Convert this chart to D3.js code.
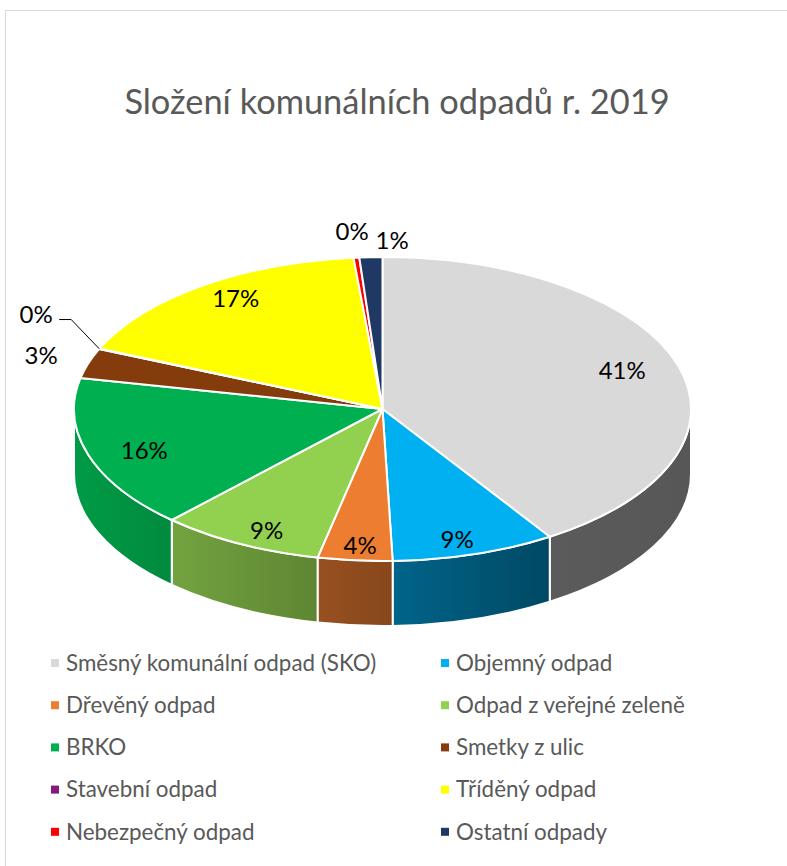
<!DOCTYPE html>
<html>
<head>
<meta charset="utf-8">
<script src="https://cdn.jsdelivr.net/npm/d3@7"></script>
<style>
  body { margin: 0; background: #fff; }
  svg text { font-family: Lato, "Open Sans", sans-serif; }
</style>
</head>
<body>
<div id="chart"></div>
<script>
(function(d3) {
  'use strict';

  // data (shares in %)
  var categories = ['Směsný komunální odpad (SKO)', 'Objemný odpad', 'Dřevěný odpad',
    'Odpad z veřejné zeleně', 'BRKO', 'Smetky z ulic', 'Stavební odpad',
    'Tříděný odpad', 'Nebezpečný odpad', 'Ostatní odpady'];
  var shares = [40.9, 8.6, 3.9, 8.6, 16.3, 3.2, 0.05, 17.0, 0.3, 1.2];
  var colors = ['#d9d9d9', '#00b0f0', '#ed7d31', '#92d050', '#00b050',
    '#843c0c', '#86197f', '#ffff00', '#ff0000', '#1f3864'];
  var title = 'Složení komunálních odpadů r. 2019';

  var width = 787;
  var height = 866;
  var cx = 382.5, cy = 409;
  var rx = 308.5, ry = 152;
  var depth = 65;

  var svg = d3.select('#chart')
    .append('svg')
    .attr('width', width)
    .attr('height', height);

  svg.append('rect')
    .attr('x', 5.5).attr('y', 10.5)
    .attr('width', width + 10).attr('height', height + 10)
    .attr('fill', '#fff')
    .attr('stroke', '#d9d9d9');

  svg.append('text')
    .attr('x', 397).attr('y', 114)
    .attr('text-anchor', 'middle')
    .attr('fill', '#595959')
    .style('font-size', '34.4px')
    .text(title);

  var data = categories.map(function(c, i) {
    return { name: c, value: shares[i], color: colors[i] };
  });

  var pie = d3.pie()
    .value(function(d) { return d.value; })
    .sort(null)
    .startAngle(0)
    .endAngle(2 * Math.PI);

  var arcs = pie(data);

  function pt(a, dy) {
    return [cx + rx * Math.sin(a), cy - ry * Math.cos(a) + (dy || 0)];
  }

  // light from the left: sides facing right get darker
  function shade(color, a) {
    var f = Math.max(0.4, 0.58 - 0.3 * Math.sin(a));
    var c = d3.rgb(color);
    return d3.rgb(c.r * f, c.g * f, c.b * f).formatHex();
  }

  var defs = svg.append('defs');
  var sides = svg.append('g');
  var tops = svg.append('g');

  arcs.forEach(function(d, i) {
    var s = Math.max(d.startAngle, Math.PI / 2);
    var e = Math.min(d.endAngle, 3 * Math.PI / 2);
    if (s >= e) return;
    var g = defs.append('linearGradient')
      .attr('id', 'side' + i)
      .attr('x1', 0).attr('x2', 1).attr('y1', 0).attr('y2', 0);
    // left edge of the wall is the end angle (clockwise runs right to left at the front)
    g.append('stop').attr('offset', 0).attr('stop-color', shade(d.data.color, e));
    g.append('stop').attr('offset', 1).attr('stop-color', shade(d.data.color, s));
    var p0 = pt(s), p1 = pt(e), q1 = pt(e, depth), q0 = pt(s, depth);
    sides.append('path')
      .attr('d', 'M' + p0 + 'A' + rx + ',' + ry + ' 0 0 1 ' + p1 +
        'L' + q1 + 'A' + rx + ',' + ry + ' 0 0 0 ' + q0 + 'Z')
      .attr('fill', 'url(#side' + i + ')')
      .attr('stroke', '#fff')
      .attr('stroke-width', 2)
      .attr('stroke-linejoin', 'round');
  });

  arcs.forEach(function(d) {
    var p0 = pt(d.startAngle), p1 = pt(d.endAngle);
    var large = d.endAngle - d.startAngle > Math.PI ? 1 : 0;
    tops.append('path')
      .attr('d', 'M' + cx + ',' + cy + 'L' + p0 + 'A' + rx + ',' + ry +
        ' 0 ' + large + ' 1 ' + p1 + 'Z')
      .attr('fill', d.data.color)
      .attr('stroke', '#fff')
      .attr('stroke-width', 2)
      .attr('stroke-linejoin', 'round');
  });

  // data labels: big slices inside, small ones outside
  var labels = arcs.map(function(d) {
    var a = (d.startAngle + d.endAngle) / 2;
    var inside = d.data.value >= 3.5;
    var kx = inside ? 0.81 : 1.16;
    var ky = inside ? 0.9 : 1.17;
    return {
      a: a, inside: inside,
      text: Math.round(d.data.value) + '%',
      x: cx + kx * rx * Math.sin(a),
      y: cy - ky * ry * Math.cos(a),
      edge: pt(a)
    };
  });

  // simple overlap fix for the outside labels
  var outside = labels.filter(function(l) { return !l.inside; });
  for (var i = 0; i < outside.length; i++) {
    for (var j = 0; j < i; j++) {
      var A = outside[j], B = outside[i];
      var dx = B.x - A.x, dy = B.y - A.y;
      if (Math.abs(dx) < 40 && Math.abs(dy) < 24) {
        if (Math.abs(Math.cos(B.a)) > 0.9) {
          B.x = A.x + 40;
          B.y = A.y + 9;
        } else {
          B.y = A.y - 41;
          B.x = A.x - 5;
          B.leader = true;
        }
      }
    }
  }

  var lab = svg.append('g');
  labels.forEach(function(l) {
    if (l.leader) {
      lab.append('path')
        .attr('d', 'M' + (l.x + 23) + ',' + (l.y + 5) + 'H' + (l.x + 35) + 'L' + l.edge)
        .attr('fill', 'none')
        .attr('stroke', '#000')
        .attr('stroke-width', 1);
    }
    lab.append('text')
      .attr('x', l.x).attr('y', l.y)
      .attr('dy', '0.35em')
      .attr('text-anchor', 'middle')
      .attr('fill', '#000')
      .style('font-size', '24px')
      .text(l.text);
  });

  // legend, two columns
  var legend = svg.selectAll('.legend')
    .data(data)
    .enter()
    .append('g')
    .attr('class', 'legend')
    .attr('transform', function(d, i) {
      var col = i % 2, row = Math.floor(i / 2);
      return 'translate(' + (col ? 441 : 51) + ',' + (663 + row * 42.2) + ')';
    });

  legend.append('rect')
    .attr('x', 0).attr('y', -4)
    .attr('width', 8).attr('height', 8)
    .attr('fill', function(d) { return d.color; });

  legend.append('text')
    .attr('x', 15).attr('y', 0)
    .attr('dy', '0.35em')
    .attr('fill', '#595959')
    .style('font-size', '22.4px')
    .text(function(d) { return d.name; });

})(window.d3);
</script>
</body>
</html>
